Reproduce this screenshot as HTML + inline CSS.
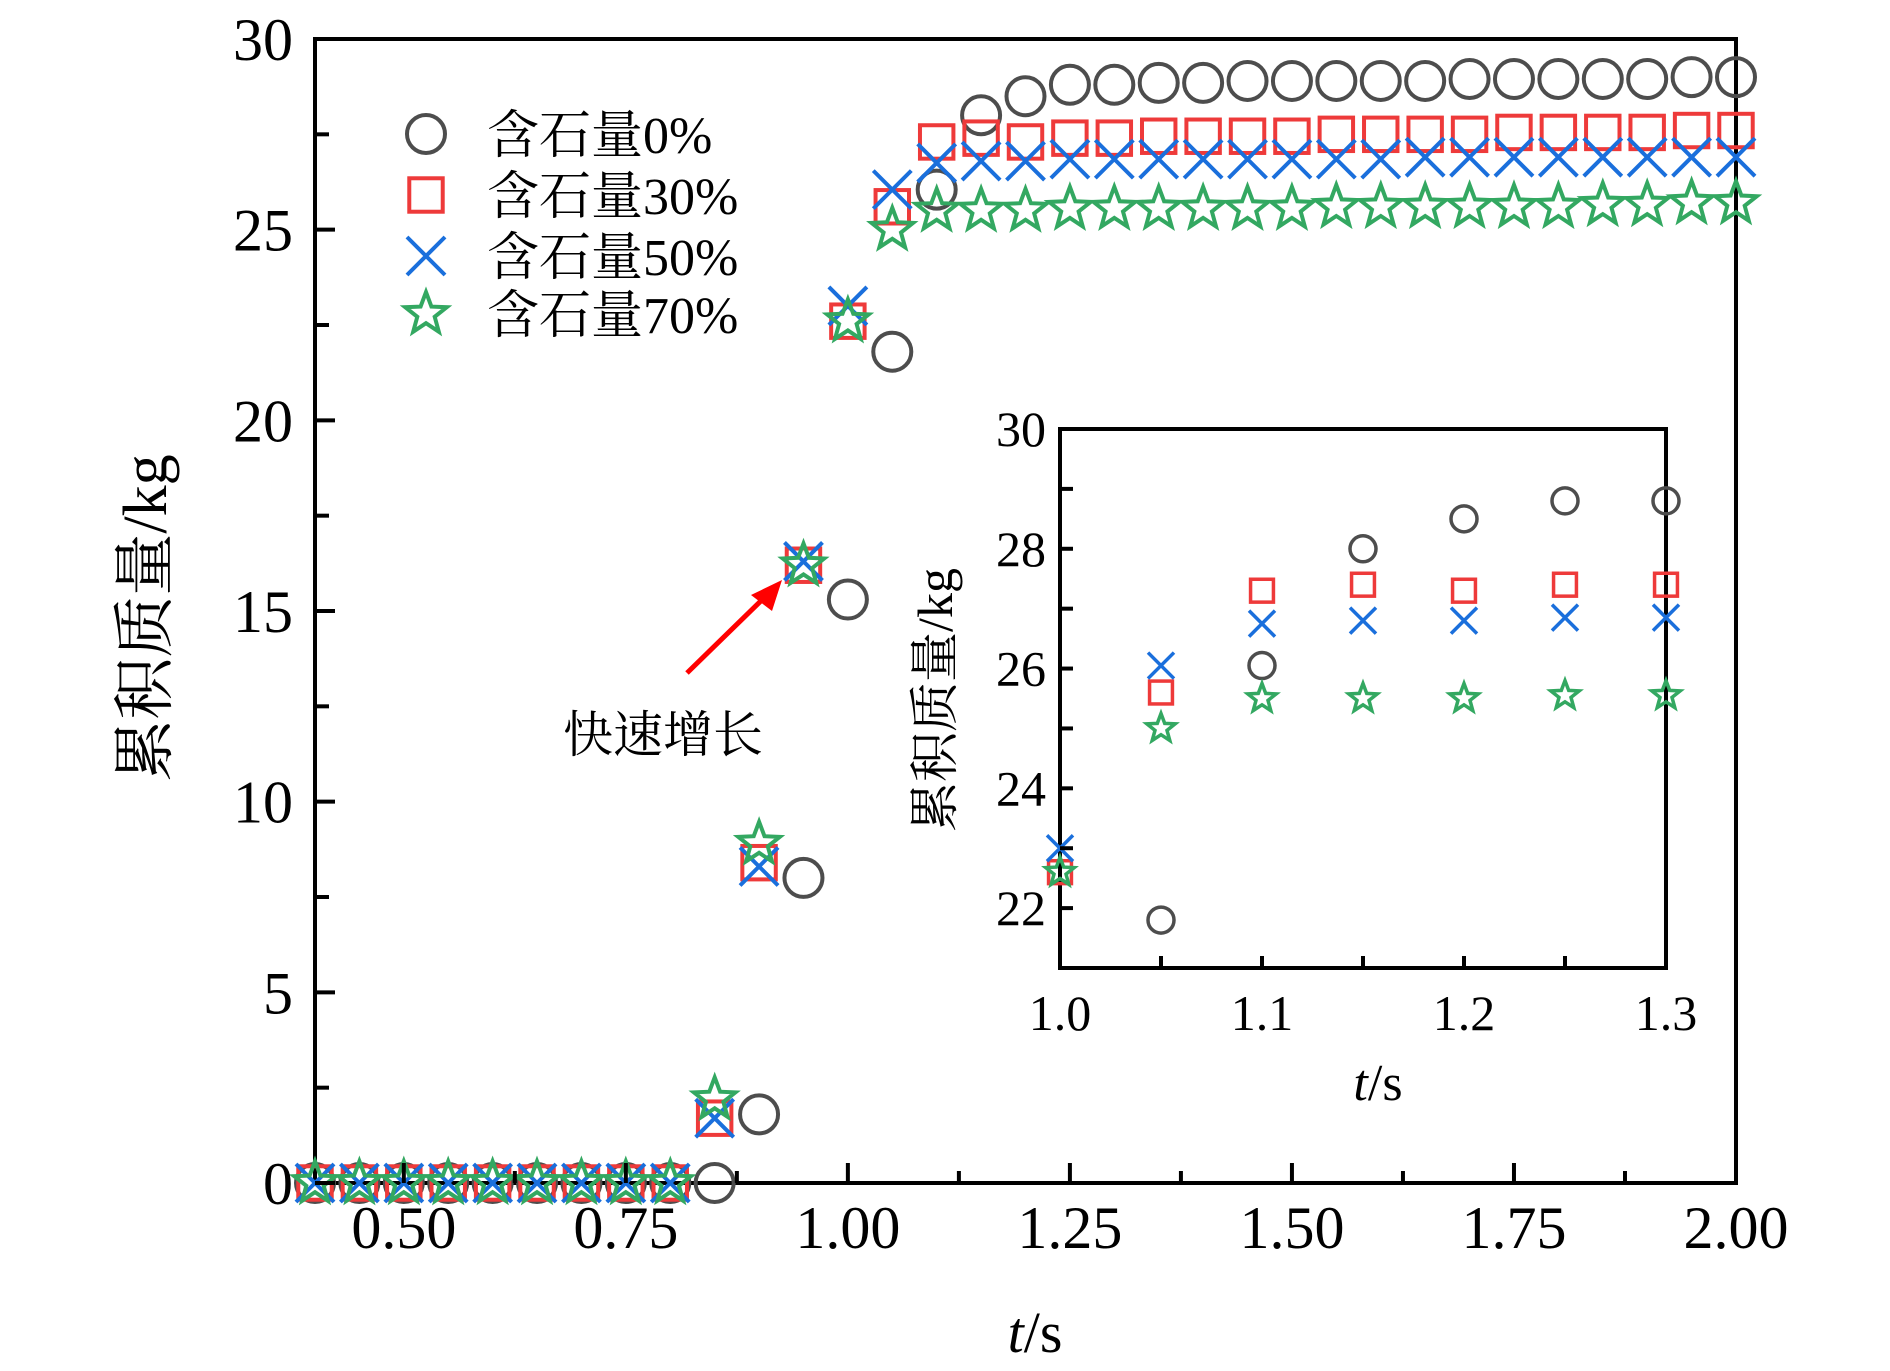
<!DOCTYPE html>
<html><head><meta charset="utf-8">
<style>
html,body{margin:0;padding:0;background:#fff;}
svg{display:block;}
text{font-family:"Liberation Serif","Noto Serif CJK SC",serif;fill:#000;}
</style></head>
<body>
<svg id="chart" width="1890" height="1371" viewBox="0 0 1890 1371" xmlns="http://www.w3.org/2000/svg"></svg>
<script>
const times = [0.40,0.45,0.50,0.55,0.60,0.65,0.70,0.75,0.80,0.85,0.90,0.95,1.00,1.05,1.10,1.15,1.20,1.25,1.30,1.35,1.40,1.45,1.50,1.55,1.60,1.65,1.70,1.75,1.80,1.85,1.90,1.95,2.00];
const stone0 = [0,0,0,0,0,0,0,0,0,0,1.8,8.0,15.3,21.8,26.05,28.0,28.5,28.8,28.8,28.85,28.85,28.9,28.9,28.9,28.9,28.9,28.95,28.95,28.95,28.95,28.95,29.0,29.0];
const stone30 = [0,0,0,0,0,0,0,0,0,1.7,8.4,16.2,22.6,25.6,27.3,27.4,27.3,27.4,27.4,27.45,27.45,27.45,27.45,27.5,27.5,27.5,27.5,27.55,27.55,27.55,27.55,27.6,27.6];
const stone50 = [0,0,0,0,0,0,0,0,0,1.7,8.3,16.3,23.0,26.05,26.75,26.8,26.8,26.85,26.85,26.85,26.85,26.85,26.85,26.85,26.85,26.9,26.9,26.9,26.9,26.9,26.9,26.9,26.9];
const stone70 = [0,0,0,0,0,0,0,0,0,2.2,8.9,16.2,22.6,25.0,25.5,25.5,25.5,25.55,25.55,25.55,25.55,25.55,25.55,25.6,25.6,25.6,25.6,25.6,25.6,25.65,25.65,25.7,25.7];
const xTicksMain = [0.50,0.75,1.00,1.25,1.50,1.75,2.00];
const xTickLabelsMain = ["0.50","0.75","1.00","1.25","1.50","1.75","2.00"];
const yTicksMain = [0,5,10,15,20,25,30];
const yTickLabelsMain = ["0","5","10","15","20","25","30"];
const xTicksInset = [1.0,1.1,1.2,1.3];
const xTickLabelsInset = ["1.0","1.1","1.2","1.3"];
const yTicksInset = [22,24,26,28,30];
const yTickLabelsInset = ["22","24","26","28","30"];
const legendLabels = ["含石量0%","含石量30%","含石量50%","含石量70%"];

const NS="http://www.w3.org/2000/svg";
const svg=document.getElementById('chart');
function mk(tag,attrs,parent){const e=document.createElementNS(NS,tag);for(const k in attrs)e.setAttribute(k,attrs[k]);(parent||svg).appendChild(e);return e;}

const M={x0:315,x1:1736,y0:1183,y1:39,tmin:0.4,tmax:2.0,vmin:0,vmax:30};
function mx(t){return M.x0+(t-M.tmin)/(M.tmax-M.tmin)*(M.x1-M.x0);}
function my(v){return M.y0-(v-M.vmin)/(M.vmax-M.vmin)*(M.y0-M.y1);}
const I={x0:1060,x1:1666,y0:968,y1:429,tmin:1.0,tmax:1.3,vmin:21,vmax:30};
function ix(t){return I.x0+(t-I.tmin)/(I.tmax-I.tmin)*(I.x1-I.x0);}
function iy(v){return I.y0-(v-I.vmin)/(I.vmax-I.vmin)*(I.y0-I.y1);}

const C0="#4d4d4d",C30="#ee3a3a",C50="#1a6fdc",C70="#33a861";
function starPts(cx,cy,R){const r=R*0.42;let p=[];for(let i=0;i<10;i++){const a=-Math.PI/2+i*Math.PI/5;const rr=i%2?r:R;p.push((cx+rr*Math.cos(a)).toFixed(1)+','+(cy+rr*Math.sin(a)).toFixed(1));}return p.join(' ');}
function marker(g,kind,cx,cy,s,sw){
  if(kind==0) return mk('circle',{cx:cx,cy:cy,r:s,fill:'none',stroke:C0,'stroke-width':sw},g);
  if(kind==1) return mk('rect',{x:cx-s*0.88,y:cy-s*0.88,width:s*1.76,height:s*1.76,fill:'none',stroke:C30,'stroke-width':sw},g);
  if(kind==2) return mk('path',{d:`M${cx-s},${cy-s}L${cx+s},${cy+s}M${cx-s},${cy+s}L${cx+s},${cy-s}`,fill:'none',stroke:C50,'stroke-width':sw},g);
  return mk('polygon',{points:starPts(cx,cy,s*1.15),fill:'none',stroke:C70,'stroke-width':sw,'stroke-linejoin':'miter'},g);
}
const series=[stone0,stone30,stone50,stone70];
const seriesNames=['series-stone-0','series-stone-30','series-stone-50','series-stone-70'];

const frame=mk('rect',{x:M.x0,y:M.y1,width:M.x1-M.x0,height:M.y0-M.y1,fill:'none',stroke:'#000','stroke-width':4});



series.forEach((arr,k)=>{
  const g=mk('g',{});
  
  
  arr.forEach((v,i)=>{
    const m=marker(g,k,mx(times[i]),my(v),19,4);
    
    
  });
});

const tg=mk('g',{stroke:'#000','stroke-width':4});


for(let v=0;v<=30;v+=2.5){const maj=(v%5===0);mk('line',{x1:M.x0,x2:M.x0+(maj?20:14),y1:my(v),y2:my(v)},tg);}
for(let t=0.5;t<=2.0001;t+=0.125){const maj=Math.abs(t*4-Math.round(t*4))<1e-6;mk('line',{x1:mx(t),x2:mx(t),y1:M.y0,y2:M.y0-(maj?20:12)},tg);}
yTicksMain.forEach((v,i)=>{const t=mk('text',{x:M.x0-22,y:my(v)+21,'text-anchor':'end','font-size':60});t.textContent=yTickLabelsMain[i];
});
xTicksMain.forEach((v,i)=>{const t=mk('text',{x:mx(v),y:M.y0+65,'text-anchor':'middle','font-size':60});t.textContent=xTickLabelsMain[i];
});

const yt=mk('text',{x:0,y:0,'text-anchor':'middle','font-size':62,transform:'translate(166,618) rotate(-90)'});
yt.textContent='累积质量/kg';

const xt=mk('text',{x:1035,y:1352,'text-anchor':'middle','font-size':58});
xt.innerHTML='<tspan font-style="italic">t</tspan>/s';


const lg=mk('g',{});

const ly=[134,195,256,314];
legendLabels.forEach((lab,k)=>{
  const e=mk('g',{},lg);
  
  marker(e,k,426,ly[k],19,4);
  const t=mk('text',{x:487,y:ly[k]+19,'font-size':52},e);t.textContent=lab;
});

const ag=mk('g',{});

mk('line',{x1:687,y1:673,x2:770,y2:592,stroke:'#f00','stroke-width':5},ag);
mk('polygon',{points:'782,580 751,595 772,611',fill:'#f00'},ag);
const at=mk('text',{x:563,y:752,'font-size':50},ag);at.textContent='快速增长';

const ig=mk('g',{});

mk('rect',{x:I.x0,y:I.y1,width:I.x1-I.x0,height:I.y0-I.y1,fill:'#fff',stroke:'#000','stroke-width':4},ig);
series.forEach((arr,k)=>{
  const g=mk('g',{},ig);
  
  arr.forEach((v,i)=>{
    const t=times[i];
    if(t<I.tmin-1e-6||t>I.tmax+1e-6||v<I.vmin||v>I.vmax)return;
    const m=marker(g,k,ix(t),iy(v),13,3.5);
    
  });
});
const itg=mk('g',{stroke:'#000','stroke-width':4},ig);
for(let v=22;v<=29;v++){mk('line',{x1:I.x0,x2:I.x0+13,y1:iy(v),y2:iy(v)},itg);}
for(let t=1.05;t<=1.2501;t+=0.05){mk('line',{x1:ix(t),x2:ix(t),y1:I.y0,y2:I.y0-12},itg);}
yTicksInset.forEach((v,i)=>{const t=mk('text',{x:I.x0-14,y:iy(v)+17,'text-anchor':'end','font-size':50},ig);t.textContent=yTickLabelsInset[i];
});
xTicksInset.forEach((v,i)=>{const t=mk('text',{x:ix(v),y:I.y0+62,'text-anchor':'middle','font-size':50},ig);t.textContent=xTickLabelsInset[i];
});
const iyt=mk('text',{x:0,y:0,'text-anchor':'middle','font-size':50,transform:'translate(952,700) rotate(-90)'},ig);
iyt.textContent='累积质量/kg';

const ixt=mk('text',{x:1378,y:1100,'text-anchor':'middle','font-size':52},ig);
ixt.innerHTML='<tspan font-style="italic">t</tspan>/s';

</script>
</body></html>
